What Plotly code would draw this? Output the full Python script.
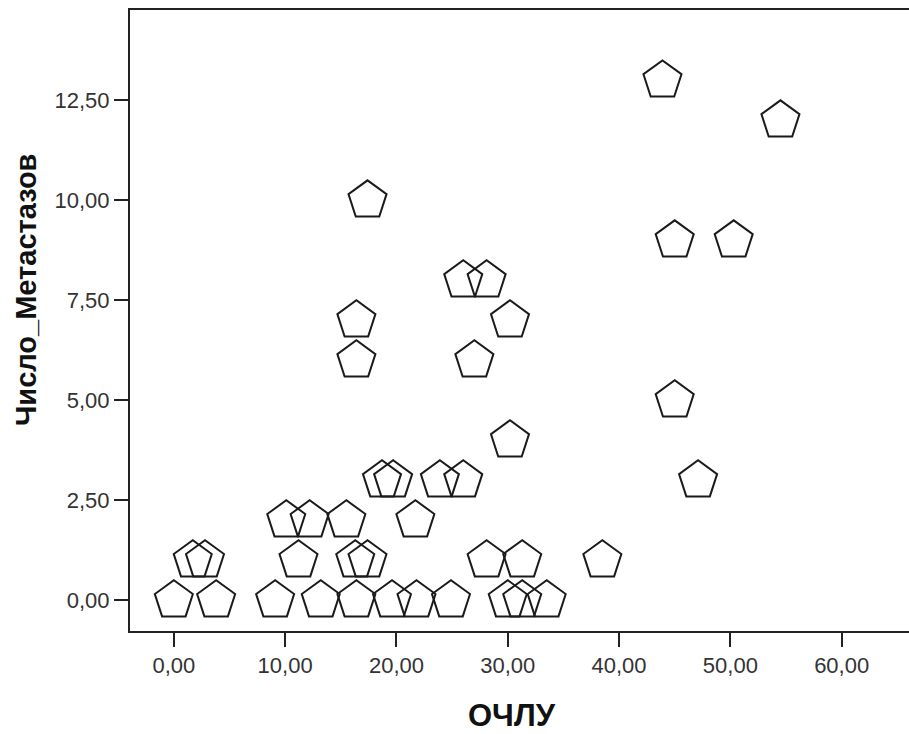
import plotly.graph_objects as go

# ---- data ----
ochlu = [0, 3.8, 9.1, 13.2, 16.4, 19.6, 21.8, 24.9, 30.0, 31.3, 33.5,
         1.7, 2.8, 11.2, 16.3, 17.4, 28.1, 31.3, 38.5,
         10.1, 12.2, 15.5, 21.7,
         18.7, 19.7, 23.9, 26.0, 47.1,
         30.2,
         45.0,
         16.4, 27.0,
         16.4, 30.2,
         26.0, 28.1,
         45.0, 50.3,
         17.4,
         54.5,
         43.9]
metastases = [0, 0, 0, 0, 0, 0, 0, 0, 0, 0, 0,
              1, 1, 1, 1, 1, 1, 1, 1,
              2, 2, 2, 2,
              3, 3, 3, 3, 3,
              4,
              5,
              6, 6,
              7, 7,
              8, 8,
              9, 9,
              10,
              12,
              13]

x_tickvals = [0, 10, 20, 30, 40, 50, 60]
x_ticktext = ["0,00", "10,00", "20,00", "30,00", "40,00", "50,00", "60,00"]
y_tickvals = [0, 2.5, 5, 7.5, 10, 12.5]
y_ticktext = ["0,00", "2,50", "5,00", "7,50", "10,00", "12,50"]

x_title = "ОЧЛУ"
y_title = "Число_Метастазов"

W, H = 909, 734
L, R, T, B = 130, 0, 9.5, 102.5
pw, ph = W - L - R, H - T - B

axis_color = "#222222"
font_family = "Liberation Sans, Arial, sans-serif"

fig = go.Figure()
fig.add_trace(go.Scatter(
    x=ochlu, y=metastases, mode="markers",
    marker=dict(symbol="pentagon-open", size=40, color="#1a1a1a",
                line=dict(width=2, color="#1a1a1a")),
    hoverinfo="x+y", showlegend=False,
))

fig.update_layout(
    width=W, height=H,
    margin=dict(l=L, r=R, t=T, b=B, pad=0),
    paper_bgcolor="white", plot_bgcolor="white",
    font=dict(family=font_family, color="#333333"),
    xaxis=dict(range=[-3.94, 66.05], tickvals=x_tickvals, ticktext=x_ticktext,
               showgrid=False, zeroline=False, showline=True, linewidth=2,
               linecolor=axis_color, mirror=True, ticks="outside", ticklen=14,
               tickwidth=2, tickcolor=axis_color,
               tickfont=dict(size=22, color="#333333", family=font_family)),
    yaxis=dict(range=[-0.77, 14.76], tickvals=y_tickvals, ticktext=y_ticktext,
               showgrid=False, zeroline=False, showline=True, linewidth=2,
               linecolor=axis_color, mirror=False, ticks="outside", ticklen=14,
               tickwidth=2, tickcolor=axis_color,
               tickfont=dict(size=22, color="#333333", family=font_family)),
    annotations=[
        dict(text=x_title, xref="paper", yref="paper",
             x=(512 - L) / pw, y=(H - B - 716) / ph,
             xanchor="center", yanchor="middle", showarrow=False,
             font=dict(size=31, color="#111111", family=font_family, weight="bold")),
        dict(text=y_title, xref="paper", yref="paper",
             x=(26 - L) / pw, y=(H - B - 290) / ph, textangle=-90,
             xanchor="center", yanchor="middle", showarrow=False,
             font=dict(size=29, color="#111111", family=font_family, weight="bold")),
    ],
)

fig.write_html("out.html")
